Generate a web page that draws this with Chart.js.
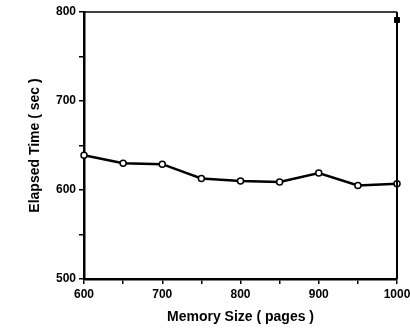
<!DOCTYPE html>
<html>
<head>
<meta charset="utf-8">
<script src="https://cdn.jsdelivr.net/npm/chart.js@4/dist/chart.umd.min.js"></script>
<style>
  html, body { margin: 0; padding: 0; background: #fff; }
  #wrap { width: 410px; height: 330px; }
</style>
</head>
<body>
<div id="wrap"><canvas id="memChart" width="410" height="330"></canvas></div>
<script>
// data
const memorySizes = [600, 650, 700, 750, 800, 850, 900, 950, 1000];
const elapsedTimes = [639, 630, 629, 613, 610, 609, 619, 605, 607];
const strayX = [1000];
const strayY = [791];
const xLabelled = [600, 700, 800, 900, 1000];
const yLabelled = [500, 600, 700, 800];

const FONT = "'Liberation Sans', Arial, sans-serif";

/* frame on top and right of the plot area */
const framePlugin = {
  id: "frame",
  afterDraw(chart) {
    const { ctx, chartArea: a } = chart;
    ctx.save();
    ctx.strokeStyle = "#000";
    ctx.lineWidth = 1.5;
    ctx.beginPath();
    ctx.moveTo(a.left, a.top);
    ctx.lineTo(a.right, a.top);
    ctx.stroke();
    ctx.lineWidth = 2;
    ctx.beginPath();
    ctx.moveTo(a.right, a.top);
    ctx.lineTo(a.right, a.bottom);
    ctx.stroke();
    ctx.restore();
  }
};

const toPoints = (xs, ys) => xs.map((x, i) => ({ x, y: ys[i] }));

new Chart(document.getElementById("memChart"), {
  type: "line",
  data: {
    datasets: [
      {
        data: toPoints(memorySizes, elapsedTimes),
        borderColor: "#000",
        borderWidth: 2.5,
        tension: 0,
        pointRadius: 3,
        pointBorderWidth: 1.5,
        pointBackgroundColor: "#fff",
        pointBorderColor: "#000",
        clip: false
      },
      {
        data: toPoints(strayX, strayY),
        showLine: false,
        pointStyle: "rect",
        pointRadius: 3.5,
        pointBackgroundColor: "#000",
        pointBorderColor: "#000",
        clip: false
      }
    ]
  },
  options: {
    responsive: false,
    animation: false,
    layout: { padding: { left: 26, top: 12, right: 13, bottom: 0 } },
    plugins: { legend: { display: false }, tooltip: { enabled: false } },
    scales: {
      x: {
        type: "linear",
        min: 600,
        max: 1000,
        afterFit(s) { s.height = 51; s.paddingLeft = 0; s.paddingRight = 0; },
        ticks: {
          stepSize: 50,
          autoSkip: false,
          maxRotation: 0,
          padding: 3,
          color: "#000",
          font: { family: FONT, size: 12, weight: "bold" },
          callback: v => (xLabelled.includes(v) ? String(v) : "")
        },
        grid: { drawOnChartArea: false, color: "#000", lineWidth: 1.5, tickLength: 5 },
        border: { color: "#000", width: 2.5 },
        title: {
          display: true,
          text: "Memory Size ( pages )",
          color: "#000",
          font: { family: FONT, size: 14, weight: "bold" },
          padding: { top: 0, bottom: 4 }
        }
      },
      y: {
        min: 500,
        max: 800,
        afterFit(s) { s.width = 58; s.paddingTop = 0; s.paddingBottom = 0; },
        ticks: {
          stepSize: 50,
          autoSkip: false,
          padding: 3,
          color: "#000",
          font: { family: FONT, size: 12, weight: "bold" },
          callback: v => (yLabelled.includes(v) ? String(v) : "")
        },
        grid: { drawOnChartArea: false, color: "#000", lineWidth: 1.5, tickLength: 5 },
        border: { color: "#000", width: 2.5 },
        title: {
          display: true,
          text: "Elapsed Time ( sec )",
          color: "#000",
          font: { family: FONT, size: 14, weight: "bold" },
          padding: { top: 1, bottom: 0 }
        }
      }
    }
  },
  plugins: [framePlugin]
});
</script>
</body>
</html>
